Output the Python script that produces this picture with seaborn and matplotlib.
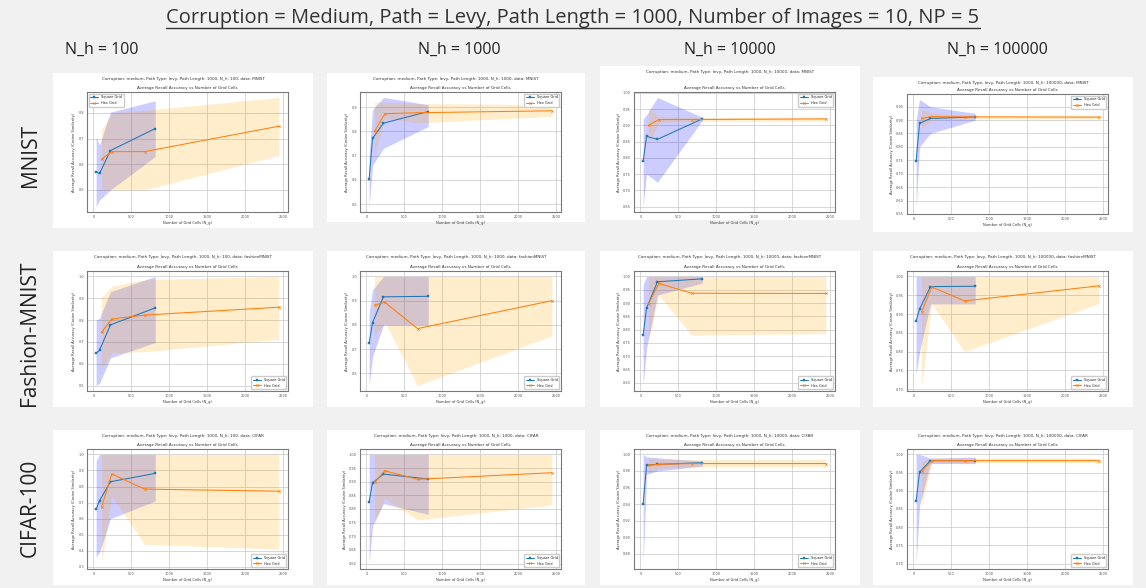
import numpy as np
import pandas as pd
import matplotlib
matplotlib.use("Agg")
import matplotlib.pyplot as plt
import seaborn as sns
from matplotlib.patches import Rectangle
from matplotlib.lines import Line2D
from matplotlib.ticker import MultipleLocator

# ---------------- data ----------------
SQUARE_X = [36, 81, 225, 816]
HEX_X = [108, 243, 675, 2448]
N_H = [100, 1000, 10000, 100000]
DATASETS = ["MNIST", "fashionMNIST", "CIFAR"]
ROW_LABELS = ["MNIST", "Fashion-MNIST", "CIFAR-100"]

MNIST_SQ = [[0.569, 0.564, 0.653, 0.739], [0.604, 0.771, 0.834, 0.882],
            [0.789, 0.866, 0.857, 0.920], [0.748, 0.888, 0.906, 0.912]]
MNIST_SQ_LO = [[0.435, 0.46, 0.50, 0.63], [0.49, 0.66, 0.73, 0.82],
               [0.65, 0.75, 0.725, 0.915], [0.57, 0.80, 0.85, 0.90]]
MNIST_SQ_HI = [[0.704, 0.675, 0.803, 0.847], [0.70, 0.89, 0.94, 0.91],
               [0.92, 0.933, 0.986, 0.925], [0.90, 0.977, 0.95, 0.925]]
MNIST_HEX = [[0.619, 0.649, 0.649, 0.748], [0.80, 0.873, 0.877, 0.885],
             [0.90, 0.918, 0.918, 0.920], [0.906, 0.913, 0.912, 0.911]]
MNIST_HEX_LO = [[0.50, 0.50, 0.50, 0.634], [0.70, 0.855, 0.835, 0.862],
                [0.845, 0.910, 0.912, 0.912], [0.87, 0.90, 0.905, 0.904]]
MNIST_HEX_HI = [[0.734, 0.80, 0.81, 0.86], [0.92, 0.92, 0.915, 0.91],
                [0.955, 0.926, 0.925, 0.925], [0.94, 0.925, 0.918, 0.918]]

FASHION_SQ = [[0.648, 0.662, 0.778, 0.856], [0.724, 0.81, 0.916, 0.918],
              [0.78, 0.881, 0.98, 0.991], [0.882, 0.913, 0.973, 0.974]]
FASHION_SQ_LO = [[0.50, 0.51, 0.627, 0.697], [0.55, 0.67, 0.80, 0.80],
                 [0.59, 0.73, 0.93, 0.975], [0.74, 0.80, 0.927, 0.927]]
FASHION_SQ_HI = [[0.80, 0.81, 0.93, 1.0], [0.85, 0.945, 1.0, 1.0],
                 [0.97, 1.0, 1.0, 1.0], [1.0, 1.0, 1.0, 1.0]]
FASHION_HEX = [[0.745, 0.805, 0.823, 0.859], [0.882, 0.893, 0.785, 0.90],
               [0.897, 0.974, 0.937, 0.936], [0.906, 0.972, 0.935, 0.975]]
FASHION_HEX_LO = [[0.58, 0.65, 0.655, 0.712], [0.755, 0.81, 0.55, 0.755],
                  [0.76, 0.93, 0.78, 0.785], [0.71, 0.927, 0.80, 0.928]]
FASHION_HEX_HI = [[0.905, 0.955, 0.985, 1.0], [1.0, 1.0, 1.0, 1.0],
                  [1.0, 1.0, 1.0, 1.0], [1.0, 1.0, 1.0, 1.0]]

CIFAR_SQ = [[0.659, 0.712, 0.83, 0.882], [0.826, 0.896, 0.928, 0.91],
            [0.940, 0.987, 0.988, 0.990], [0.872, 0.951, 0.983, 0.983]]
CIFAR_SQ_LO = [[0.36, 0.39, 0.60, 0.71], [0.60, 0.74, 0.82, 0.78],
               [0.868, 0.976, 0.98, 0.986], [0.70, 0.86, 0.975, 0.975]]
CIFAR_SQ_HI = [[0.96, 1.0, 1.0, 1.0], [1.0, 1.0, 1.0, 1.0],
               [1.0, 0.997, 0.996, 0.992], [1.0, 1.0, 0.99, 0.993]]
CIFAR_HEX = [[0.673, 0.878, 0.784, 0.771], [0.898, 0.94, 0.909, 0.933],
             [0.987, 0.988, 0.989, 0.989], [0.954, 0.983, 0.983, 0.983]]
CIFAR_HEX_LO = [[0.32, 0.74, 0.44, 0.41], [0.74, 0.84, 0.76, 0.815],
                [0.977, 0.983, 0.985, 0.985], [0.86, 0.976, 0.977, 0.977]]
CIFAR_HEX_HI = [[1.0, 1.0, 1.0, 1.0], [1.0, 1.0, 1.0, 1.0],
                [0.996, 0.994, 0.994, 0.994], [0.98, 0.99, 0.99, 0.99]]

YTICK_STEP = [[0.1, 0.1, 0.05, 0.05], [0.1, 0.1, 0.05, 0.05], [0.1, 0.05, 0.02, 0.05]]
LEGEND_LOC = [["upper left", "upper right", "upper right", "upper right"],
              ["lower right"] * 4, ["lower right"] * 4]

SQ = [MNIST_SQ, FASHION_SQ, CIFAR_SQ]
SQ_LO = [MNIST_SQ_LO, FASHION_SQ_LO, CIFAR_SQ_LO]
SQ_HI = [MNIST_SQ_HI, FASHION_SQ_HI, CIFAR_SQ_HI]
HX = [MNIST_HEX, FASHION_HEX, CIFAR_HEX]
HX_LO = [MNIST_HEX_LO, FASHION_HEX_LO, CIFAR_HEX_LO]
HX_HI = [MNIST_HEX_HI, FASHION_HEX_HI, CIFAR_HEX_HI]

# ---------------- layout (pixels) ----------------
W, H = 1146, 588
CARD_X = [53, 327, 600, 873]
CARD_W = [260, 258, 260, 260]
CARD_TOP = [[73, 73, 66, 77], [251, 251, 251, 251], [430, 430, 430, 430]]
CARD_BOT = [[228, 222, 220, 232], [407, 407, 407, 407], [585, 585, 585, 585]]
AX_X = [87, 360, 634, 907]
AX_W = 201
AX_TOP = [[92, 92, 92, 94], [271, 271, 271, 271], [449, 449, 449, 449]]
AX_H = 120

sns.set_theme(style="whitegrid", rc={
    "grid.color": "#d0d0d0", "grid.linewidth": 0.6,
    "axes.edgecolor": "#7a7a7a", "axes.linewidth": 0.8,
    "xtick.color": "#555555", "ytick.color": "#555555",
})
plt.rcParams["font.family"] = ["DejaVu Sans"]

fig = plt.figure(figsize=(W / 100, H / 100), dpi=100, facecolor="#f1f1f1")


def fx(x):
    return x / W


def fy(y):
    return 1 - y / H


# title
t = fig.text(0.5, fy(18), "Corruption = Medium, Path = Levy, Path Length = 1000, Number of Images = 10, NP = 5",
             ha="center", va="center", fontsize=14.5, family="Open Sans", color="#333333")
COL_HDR_X = [102, 459, 730, 997]
for j, nh in enumerate(N_H):
    fig.text(fx(COL_HDR_X[j]), fy(50), f"N_h = {nh}", ha="center", va="center",
             fontsize=11.5, family="Open Sans", color="#222222")
ROW_Y = [155, 333, 508]
for i, lab in enumerate(ROW_LABELS):
    fig.text(fx(30), fy(ROW_Y[i]), lab, ha="center", va="center", rotation=90,
             fontsize=15, family="Open Sans", color="#222222")

for i in range(3):
    for j in range(4):
        top, bot = CARD_TOP[i][j], CARD_BOT[i][j]
        fig.add_artist(Rectangle((fx(CARD_X[j]), fy(bot)), CARD_W[j] / W, (bot - top) / H,
                                 transform=fig.transFigure, facecolor="white",
                                 edgecolor="none", zorder=0))
        fig.text(fx(CARD_X[j] + CARD_W[j] / 2), fy(top + 6),
                 f"Corruption: medium, Path Type: levy, Path Length: 1000, N_h: {N_H[j]}, data: {DATASETS[i]}",
                 ha="center", va="center", fontsize=3.0, color="#333333")
        ax = fig.add_axes([fx(AX_X[j]), fy(AX_TOP[i][j] + AX_H), AX_W / W, AX_H / H])
        ax.set_facecolor("white")
        ax.fill_between(SQUARE_X, SQ_LO[i][j], SQ_HI[i][j], color="blue", alpha=0.2, linewidth=0)
        ax.fill_between(HEX_X, HX_LO[i][j], HX_HI[i][j], color="orange", alpha=0.2, linewidth=0)
        sq_df = pd.DataFrame({"x": SQUARE_X, "y": SQ[i][j]})
        hx_df = pd.DataFrame({"x": HEX_X, "y": HX[i][j]})
        sns.lineplot(data=sq_df, x="x", y="y", ax=ax, color="#1f77b4", marker="s",
                     markersize=1.7, markeredgewidth=0.3, markeredgecolor="#1f77b4",
                     linewidth=0.75, label="Square Grid")
        sns.lineplot(data=hx_df, x="x", y="y", ax=ax, color="#ff7f0e", marker="x",
                     markersize=1.7, markeredgewidth=0.5, markeredgecolor="#ff7f0e",
                     linewidth=0.75, label="Hex Grid")
        ax.set_title("Average Recall Accuracy vs Number of Grid Cells", fontsize=3.0, pad=2.5, color="#333333")
        ax.set_xlabel("Number of Grid Cells (N_g)", fontsize=2.6, labelpad=1.5, color="#333333")
        ax.set_ylabel("Average Recall Accuracy (Cosine Similarity)", fontsize=2.6, labelpad=1.5, color="#333333")
        ax.xaxis.set_major_locator(MultipleLocator(500))
        ax.yaxis.set_major_locator(MultipleLocator(YTICK_STEP[i][j]))
        ax.tick_params(axis="both", labelsize=2.5, length=1.2, width=0.4, pad=1)
        ax.grid(True)
        ax.legend(loc=LEGEND_LOC[i][j], fontsize=2.5, frameon=True, borderpad=0.5,
                  handlelength=2.2, labelspacing=0.5, edgecolor="#cccccc", framealpha=1,
                  fancybox=True)
        for s in ax.spines.values():
            s.set_visible(True)

fig.canvas.draw()
bb = t.get_window_extent()
fig.add_artist(Line2D([bb.x0 / W, bb.x1 / W], [(bb.y0 + 0.5) / H] * 2,
                      transform=fig.transFigure, color="#333333", linewidth=1.0))

fig.savefig("out.png", dpi=100, facecolor=fig.get_facecolor())
